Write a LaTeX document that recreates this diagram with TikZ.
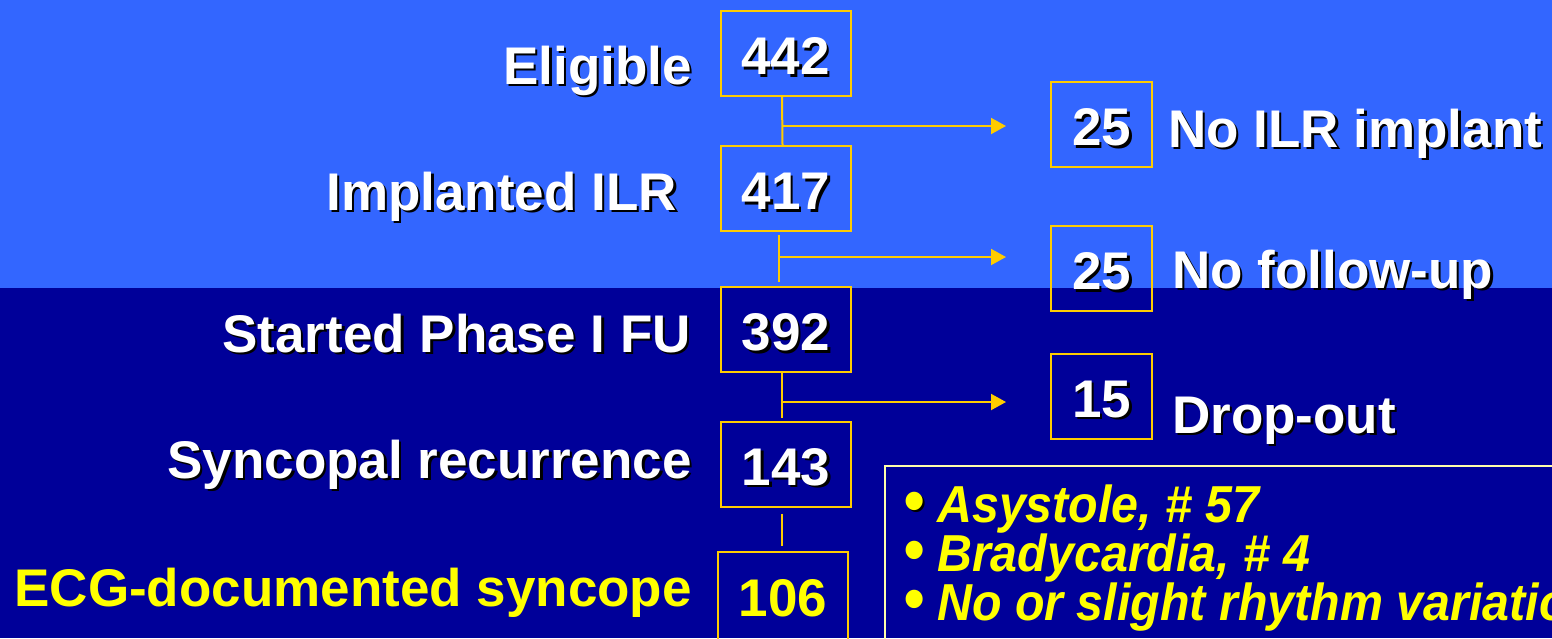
\documentclass[tikz,border=0pt]{standalone}
\usepackage{fontspec}
\usetikzlibrary{arrows.meta}
\newfontfamily\labfont{Liberation Sans}
\newfontfamily\bulfont{Liberation Sans}[FakeStretch=0.93]
\definecolor{topbg}{RGB}{51,102,255}
\definecolor{botbg}{RGB}{0,0,153}
\definecolor{boxline}{RGB}{255,204,0}
\definecolor{txtyellow}{RGB}{255,255,0}
\definecolor{listline}{RGB}{255,255,170}
\newcommand\shtxt[1]{\leavevmode\rlap{\kern2.5pt\raisebox{-2.5pt}{\textcolor{black}{#1}}}#1}
\newcommand\bitem[1]{\makebox[34pt][l]{\fontsize{64}{50}\selectfont\textbullet}#1}
\newcommand\bitemsh[1]{\makebox[34pt][l]{\fontsize{64}{50}\selectfont\shtxt{\textbullet}}#1}
\begin{document}
\begin{tikzpicture}[x=1pt,y=-1pt,
  bigfont/.style={font=\labfont\bfseries\fontsize{53}{60}\selectfont},
  numbox/.style={bigfont, draw=boxline, line width=2pt, minimum width=130pt,
    minimum height=85pt, inner sep=0pt, text=white, text height=42pt, text depth=0pt},
  smallbox/.style={numbox, minimum width=101pt},
  leftlab/.style={bigfont, anchor=base east, inner sep=0pt, text=white},
  rightlab/.style={bigfont, anchor=base west, inner sep=0pt, text=white},
  bulitem/.style={anchor=base west, inner sep=0pt, text=txtyellow,
    font=\bulfont\bfseries\itshape\fontsize{52}{50}\selectfont},
  link/.style={draw=boxline, line width=2pt},
  branch/.style={link, -{Triangle[length=15pt,width=16pt]}},
]
\useasboundingbox (0,0) rectangle (1552,638);
\clip (0,0) rectangle (1552,638);
% backgrounds
\fill[topbg] (0,0) rectangle (1552,288);
\fill[botbg] (0,288) rectangle (1552,638);

% main column boxes
\node[numbox] (b442) at (785.5,53.5) {\shtxt{442}};
\node[numbox] (b417) at (786,188.5) {\shtxt{417}};
\node[numbox] (b392) at (786,329.5) {\shtxt{392}};
\node[numbox] (b143) at (786,464) {\shtxt{143}};
\node[numbox, minimum height=90pt, text height=38pt, text=txtyellow] (b106) at (783,597) {106};

% side boxes
\node[smallbox] (s25a) at (1101.5,124.5) {\shtxt{25}};
\node[smallbox] (s25b) at (1101.5,268.5) {\shtxt{25}};
\node[smallbox] (s15) at (1101.5,396) {\shtxt{15}};

% left labels
\node[leftlab] (lEl) at (692,84) {\shtxt{Eligible}};
\node[leftlab] (lIm) at (677,210) {\shtxt{Implanted ILR}};
\node[leftlab] (lSt) at (691,352) {\shtxt{Started Phase I FU}};
\node[leftlab] (lSy) at (692,478) {\shtxt{Syncopal recurrence}};
\node[leftlab, text=txtyellow] (lEC) at (692,606) {ECG-documented syncope};

% right labels
\node[rightlab] (rNo) at (1168,147) {\shtxt{No ILR implant}};
\node[rightlab] (rFu) at (1172,288) {\shtxt{No follow-up}};
\node[rightlab] (rDr) at (1172,433) {\shtxt{Drop-out}};

% connectors
\draw[link] ([xshift=-3.5pt]b442.south) -- ([xshift=-3.5pt]b417.north);
\draw[link, shorten <=3pt, shorten >=4pt] ([xshift=-7pt]b417.south) -- ([xshift=-7pt]b392.north);
\draw[link, shorten >=3pt] ([xshift=-4pt]b392.south) -- ([xshift=-4pt]b143.north);
\draw[link, shorten <=6pt, shorten >=5pt] ([xshift=-4pt]b143.south) -- ([xshift=-1pt]b106.north);

\coordinate (j1) at (782,126);   \coordinate (e1) at (1006,126);
\coordinate (j2) at (779,257);   \coordinate (e2) at (1006,257);
\coordinate (j3) at (782,402);   \coordinate (e3) at (1006,402);
\draw[branch] (j1) -- (e1);
\draw[branch] (j2) -- (e2);
\draw[branch] (j3) -- (e3);

% findings box
\node[draw=listline, line width=1.5pt, anchor=north west, inner sep=0pt,
  minimum width=720pt, minimum height=220pt] (listbox) at (884,465) {};
\node[bulitem] (i1) at (903,522) {\bitemsh{Asystole, \# 57}};
\node[bulitem] (i2) at (903,571) {\bitem{Bradycardia, \# 4}};
\node[bulitem] (i3) at (903,620) {\bitem{No or slight rhythm variation}};
\end{tikzpicture}
\end{document}
